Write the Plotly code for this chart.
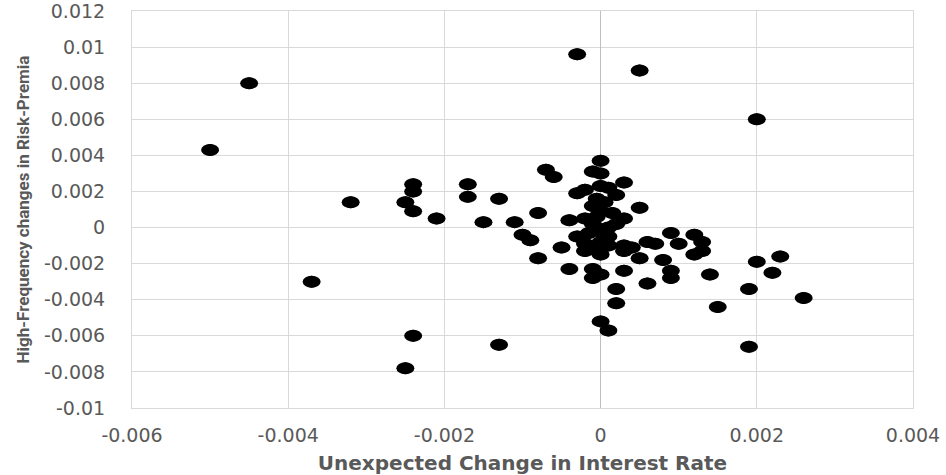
import plotly.graph_objects as go

# Unexpected change in interest rate (x) vs high-frequency change in risk premia (y)
rate_change = [
    -0.0050, -0.0045, -0.0037, -0.0032, -0.0025, -0.0024, -0.0024, -0.0024,
    -0.0024, -0.0025, -0.0021, -0.0017, -0.0017, -0.0015, -0.0013, -0.0013,
    -0.0011, -0.0010, -0.0009, -0.0008, -0.0008, -0.0007, -0.0006, -0.0005,
    -0.0004, -0.0004, -0.0003, -0.0003, -0.0003, -0.0002, -0.0002, -0.0002,
    -0.0002, -0.0001, -0.0001, -0.0001, -0.0001, -0.0001, -0.0001, 0.0000,
    0.0000, 0.0000, 0.0000, 0.0000, 0.0000, 0.0000, 0.0000, 0.0001,
    0.0001, 0.0001, 0.0002, 0.0002, 0.0002, 0.0002, 0.0003, 0.0003,
    0.0003, 0.0003, 0.0003, 0.0004, 0.0005, 0.0005, 0.0005, 0.0006,
    0.0006, 0.0007, 0.0008, 0.0009, 0.0009, 0.0009, 0.0010, 0.0012,
    0.0012, 0.0013, 0.0013, 0.0014, 0.0015, 0.0019, 0.0019, 0.0020,
    0.0020, 0.0022, 0.0023, 0.0026,
    -0.00005, 0.00005, -0.00005, 0.0001, 0.0000, 0.0001, -0.0001, 0.00015,
    -0.00015, 0.00005,
]
risk_premia_change = [
    0.0043, 0.0080, -0.0030, 0.0014, 0.0014, 0.0024, 0.0020, 0.0009,
    -0.0060, -0.0078, 0.0005, 0.0024, 0.0017, 0.0003, 0.0016, -0.0065,
    0.0003, -0.0004, -0.0007, 0.0008, -0.0017, 0.0032, 0.0028, -0.0011,
    0.0004, -0.0023, 0.0096, 0.0019, -0.0005, 0.0021, 0.0005, -0.0009,
    -0.0013, 0.0031, 0.0012, 0.0002, -0.0012, -0.0023, -0.0028, 0.0037,
    0.0030, 0.0023, 0.0009, -0.0001, -0.0015, -0.0026, -0.0052, 0.0022,
    -0.0005, -0.0057, 0.0018, 0.0002, -0.0034, -0.0042, 0.0025, 0.0005,
    -0.0010, -0.0013, -0.0024, -0.0011, 0.0087, 0.0011, -0.0017, -0.0008,
    -0.0031, -0.0009, -0.0018, -0.0003, -0.0024, -0.0028, -0.0009, -0.0004,
    -0.0015, -0.0008, -0.0013, -0.0026, -0.0044, -0.0034, -0.0066, 0.0060,
    -0.0019, -0.0025, -0.0016, -0.0039,
    0.0016, 0.0014, 0.0006, 0.0000, -0.0008, -0.0010, 0.0004, 0.0008,
    -0.0003, -0.0004,
]

x_tick_vals = [-0.006, -0.004, -0.002, 0, 0.002, 0.004]
x_tick_text = ["-0.006", "-0.004", "-0.002", "0", "0.002", "0.004"]
y_tick_vals = [-0.01, -0.008, -0.006, -0.004, -0.002, 0, 0.002, 0.004,
               0.006, 0.008, 0.01, 0.012]
y_tick_text = ["-0.01", "-0.008", "-0.006", "-0.004", "-0.002", "0", "0.002",
               "0.004", "0.006", "0.008", "0.01", "0.012"]

GRID = "#d9d9d9"
TEXT = "#595959"
MARK_W, MARK_H = 18, 12  # marker ellipse size in pixels

fig = go.Figure()
fig.add_trace(go.Scatter(
    x=rate_change, y=risk_premia_change, mode="markers",
    marker=dict(symbol="circle", size=MARK_H, color="black", line=dict(width=0)),
    showlegend=False,
))

# stretch each point into an ellipse anchored at its data position
shapes = []
for xv, yv in zip(rate_change, risk_premia_change):
    shapes.append(dict(
        type="circle", xref="x", yref="y",
        xsizemode="pixel", ysizemode="pixel",
        xanchor=xv, yanchor=yv,
        x0=-MARK_W / 2, x1=MARK_W / 2, y0=-MARK_H / 2, y1=MARK_H / 2,
        fillcolor="black", line=dict(width=0), layer="above",
    ))

fig.update_layout(
    width=946, height=475,
    margin=dict(l=132, r=33, t=11, b=67),
    paper_bgcolor="white", plot_bgcolor="white",
    shapes=shapes,
    font=dict(family="DejaVu Sans", color=TEXT),
)
fig.update_xaxes(
    range=[-0.006, 0.004], tickvals=x_tick_vals, ticktext=x_tick_text,
    showgrid=True, gridcolor=GRID, gridwidth=1,
    zeroline=True, zerolinecolor="#bfbfbf", zerolinewidth=1,
    showline=True, linecolor=GRID, mirror=True,
    ticks="", ticklabelstandoff=10, automargin=False, ticklabeloverflow="allow",
    tickfont=dict(family="DejaVu Sans", size=19, color=TEXT),
    title=dict(text="<b>Unexpected Change in Interest Rate</b>",
               font=dict(family="DejaVu Sans", size=20, color=TEXT), standoff=14),
)
fig.update_yaxes(
    range=[-0.01, 0.012], tickvals=y_tick_vals, ticktext=y_tick_text,
    showgrid=True, gridcolor=GRID, gridwidth=1,
    zeroline=True, zerolinecolor=GRID, zerolinewidth=1,
    showline=True, linecolor=GRID, mirror=True,
    ticks="", ticklabelstandoff=22, automargin=False, ticklabeloverflow="allow",
    tickfont=dict(family="DejaVu Sans", size=19, color=TEXT),
    title=dict(text="<b>High-Frequency changes in Risk-Premia</b>",
               font=dict(family="Liberation Sans Narrow, Roboto", size=17, color=TEXT),
               standoff=10),
)

fig.write_html("out.html")
